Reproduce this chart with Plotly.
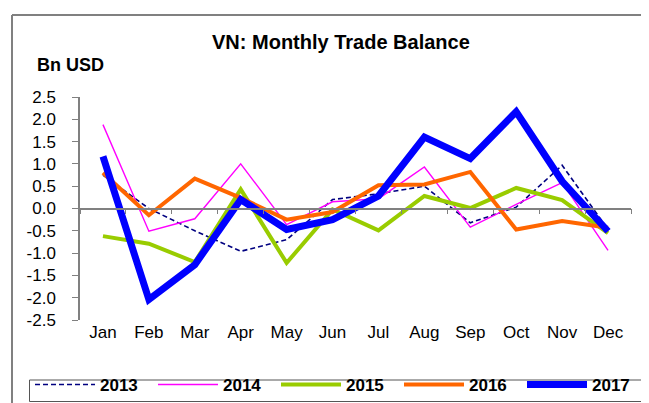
import plotly.graph_objects as go

months = ["Jan", "Feb", "Mar", "Apr", "May", "Jun", "Jul", "Aug", "Sep", "Oct", "Nov", "Dec"]
y2013 = [0.75, 0.00, -0.50, -0.96, -0.70, 0.20, 0.33, 0.50, -0.32, 0.03, 0.97, -0.47]
y2014 = [1.88, -0.51, -0.23, 1.00, -0.36, 0.15, 0.22, 0.93, -0.42, 0.09, 0.58, -0.94]
y2015 = [-0.62, -0.79, -1.20, 0.43, -1.22, -0.02, -0.49, 0.28, 0.01, 0.46, 0.19, -0.55]
y2016 = [0.80, -0.15, 0.67, 0.24, -0.25, -0.08, 0.52, 0.54, 0.82, -0.47, -0.28, -0.43]
y2017 = [1.17, -2.04, -1.26, 0.20, -0.47, -0.25, 0.28, 1.60, 1.12, 2.17, 0.61, -0.51]
ytick_vals = [-2.5, -2.0, -1.5, -1.0, -0.5, 0.0, 0.5, 1.0, 1.5, 2.0, 2.5]
ytick_text = ["-2.5", "-2.0", "-1.5", "-1.0", "-0.5", "0.0", "0.5", "1.0", "1.5", "2.0", "2.5"]

W, H = 649, 403
L, R, T, B = 72, 26, 89, 91
PW, PH = W - L - R, H - T - B

def px_x(p):
    return (p - L) / PW

def px_y(p):
    return (H - B - p) / PH

FONT = "Liberation Sans, Arial, sans-serif"

fig = go.Figure()
series = [
    ("2013", y2013, dict(color="#000080", width=1.6, dash="5px,3px")),
    ("2014", y2014, dict(color="#FF00FF", width=1.4)),
    ("2015", y2015, dict(color="#99CC00", width=4)),
    ("2016", y2016, dict(color="#FF6600", width=4)),
    ("2017", y2017, dict(color="#0000FF", width=7)),
]
for name, ys, ln in series:
    fig.add_trace(go.Scatter(x=months, y=ys, mode="lines", name=name, line=ln,
                             hoverinfo="skip"))

# invisible trace to carry the zero-crossing axis with boundary ticks
fig.add_trace(go.Scatter(x=months, y=y2017, mode="lines", xaxis="x2",
                         line=dict(width=0), showlegend=False, hoverinfo="skip"))

fig.update_layout(
    width=W, height=H,
    margin=dict(l=L, r=R, t=T, b=B, autoexpand=False),
    paper_bgcolor="white", plot_bgcolor="white",
    font=dict(family=FONT, size=17, color="black"),
    showlegend=True,
    legend=dict(orientation="h", x=px_x(22), xanchor="left", y=px_y(377), yanchor="middle",
                font=dict(family=FONT, size=17, color="black", weight="bold"),
                bgcolor="rgba(0,0,0,0)", borderwidth=0,
                entrywidth=48, entrywidthmode="pixels", itemwidth=60,
                tracegroupgap=0),
    xaxis=dict(type="category", categoryarray=months, range=[-0.5, 11.5],
               showline=False, ticks="", showgrid=False, zeroline=False,
               tickfont=dict(family=FONT, size=17), ticklabelstandoff=0),
    xaxis2=dict(type="category", categoryarray=months, range=[-0.5, 11.5],
                overlaying="x", anchor="free", position=0.5, side="bottom",
                showline=True, linecolor="#808080", linewidth=1.5,
                ticks="outside", tickson="boundaries", ticklen=5, tickcolor="#808080",
                tickwidth=1, showticklabels=False, showgrid=False, zeroline=False),
    yaxis=dict(range=[-2.5, 2.5], tickvals=ytick_vals, ticktext=ytick_text,
               showline=True, linecolor="#808080", linewidth=1.5,
               ticks="outside", ticklen=6, tickcolor="#808080", tickwidth=1,
               showgrid=False, zeroline=False, ticklabelstandoff=13,
               tickfont=dict(family=FONT, size=17)),
    annotations=[
        dict(text="<b>VN: Monthly Trade Balance</b>", xref="paper", yref="paper",
             x=px_x(333), y=px_y(34), xanchor="center", yanchor="middle",
             showarrow=False, font=dict(family=FONT, size=20, color="black")),
        dict(text="<b>Bn USD</b>", xref="paper", yref="paper",
             x=px_x(27), y=px_y(57), xanchor="left", yanchor="middle",
             showarrow=False, font=dict(family=FONT, size=18, color="black")),
    ],
    shapes=[
        dict(type="rect", xref="paper", yref="paper", x0=px_x(21.5), x1=px_x(643),
             y0=px_y(372), y1=px_y(393.5), line=dict(color="#555555", width=1)),
        dict(type="line", xref="paper", yref="paper", x0=px_x(4), x1=px_x(649),
             y0=px_y(7), y1=px_y(7), line=dict(color="#808080", width=2)),
        dict(type="line", xref="paper", yref="paper", x0=px_x(4), x1=px_x(4),
             y0=px_y(7), y1=px_y(403), line=dict(color="#808080", width=2)),
    ],
)

fig.write_html("out.html")
